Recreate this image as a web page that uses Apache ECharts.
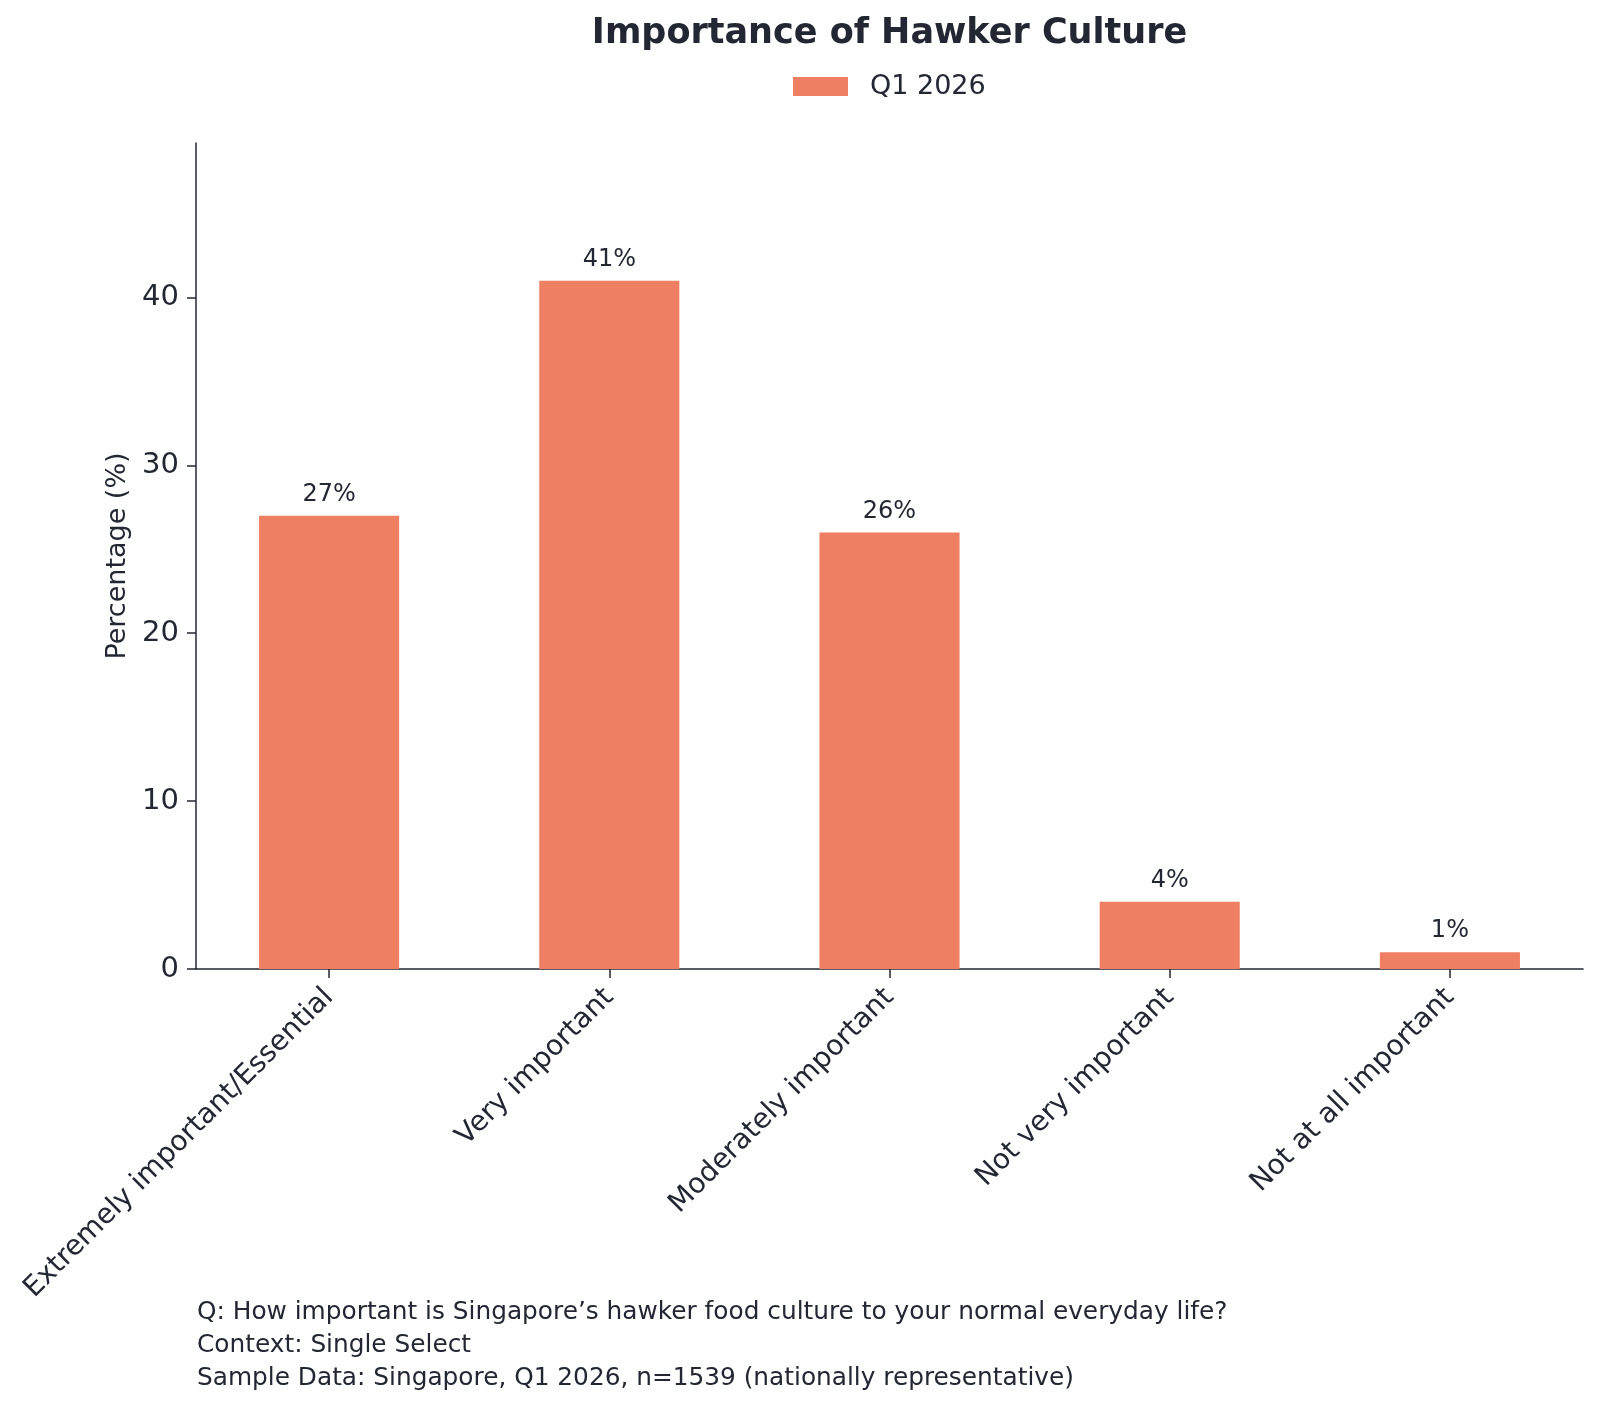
<!DOCTYPE html>
<html>
<head>
<meta charset="utf-8">
<script src="https://cdn.jsdelivr.net/npm/echarts@6/dist/echarts.min.js"></script>
<style>
  html, body { margin: 0; padding: 0; background: #fff; }
  #chart { width: 1600px; height: 1409px; }
</style>
</head>
<body>
<div id="chart"></div>
<script>
const categories = [
  'Extremely important/Essential',
  'Very important',
  'Moderately important',
  'Not very important',
  'Not at all important'
];
const q1Values = [27, 41, 26, 4, 1];
const yTicks = [0, 10, 20, 30, 40];
const xTicks = [0, 1, 2, 3, 4];
const footnotes = [
  'Q: How important is Singapore\u2019s hawker food culture to your normal everyday life?',
  'Context: Single Select',
  'Sample Data: Singapore, Q1 2026, n=1539 (nationally representative)'
];

const ink = '#232733';
const barColor = '#EF7F62';
const font = 'DejaVu Sans';

// plot box (px) and x range like matplotlib's default margins
const gridLeft = 196, gridRight = 17, gridTop = 143, gridBottom = 440;
const xMin = -0.475, xMax = 4.475;
const plotW = 1600 - gridLeft - gridRight;
const barW = 0.5 * plotW / (xMax - xMin);

const chart = echarts.init(document.getElementById('chart'));
chart.setOption({
  backgroundColor: '#fff',
  animation: false,
  textStyle: { fontFamily: font, color: ink },
  title: {
    text: 'Importance of Hawker Culture',
    left: gridLeft + plotW / 2 - 5,
    textAlign: 'center',
    top: 11,
    textStyle: { fontFamily: font, fontSize: 35, fontWeight: 'bold', color: ink }
  },
  legend: {
    data: ['Q1 2026'],
    left: 788,
    top: 68,
    itemWidth: 55,
    itemHeight: 19,
    icon: 'rect',
    textStyle: { fontFamily: font, fontSize: 27, color: ink, padding: [0, 0, 0, 17] }
  },
  grid: { left: gridLeft, right: gridRight, top: gridTop, bottom: gridBottom },
  xAxis: {
    type: 'value',
    min: xMin,
    max: xMax,
    splitLine: { show: false },
    axisLine: { lineStyle: { color: ink, width: 1.5 } },
    axisTick: { show: true, length: 9, customValues: xTicks, lineStyle: { color: ink, width: 1.5 } },
    axisLabel: {
      rotate: 45,
      fontSize: 28,
      color: ink,
      margin: 24,
      customValues: xTicks,
      formatter: v => categories[Math.round(v)]
    }
  },
  yAxis: {
    type: 'value',
    min: 0,
    max: 49.2,
    interval: 10,
    name: 'Percentage (%)',
    nameLocation: 'middle',
    nameGap: 59,
    nameTextStyle: { fontFamily: font, fontSize: 27, color: ink },
    axisLine: { show: true, onZero: false, lineStyle: { color: ink, width: 1.5 } },
    axisTick: { show: true, length: 9, customValues: yTicks, lineStyle: { color: ink, width: 1.5 } },
    axisLabel: { fontSize: 29, color: ink, margin: 17, customValues: yTicks },
    splitLine: { show: false }
  },
  series: [{
    name: 'Q1 2026',
    type: 'bar',
    data: q1Values.map((v, i) => [i, v]),
    barWidth: barW,
    itemStyle: { color: barColor },
    label: {
      show: true,
      position: 'top',
      distance: 9,
      formatter: p => p.value[1] + '%',
      fontFamily: font,
      fontSize: 24,
      color: ink
    }
  }],
  graphic: [{
    type: 'text',
    left: 197,
    top: 1296,
    style: {
      text: footnotes.join('\n'),
      fontFamily: font,
      fontSize: 24.8,
      lineHeight: 33,
      fill: ink
    }
  }]
});
</script>
</body>
</html>
